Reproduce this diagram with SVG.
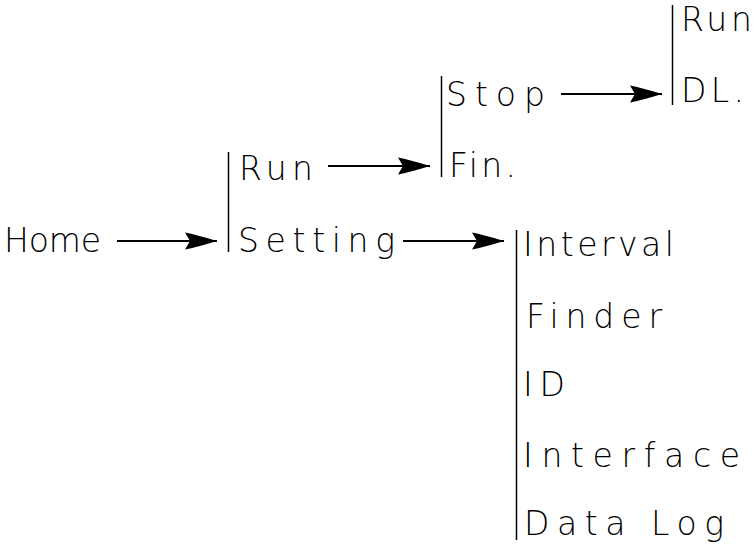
<svg xmlns="http://www.w3.org/2000/svg" width="755" height="550" viewBox="0 0 755 550">
<style>
text{font-family:"DejaVu Sans","Liberation Sans",sans-serif;font-weight:200;font-size:33px;fill:#000;}
.ln{stroke:#000;stroke-width:1.8;fill:none;}
.bar{stroke:#000;stroke-width:1.5;fill:none;}
</style>
<defs>
<marker id="ah" markerUnits="userSpaceOnUse" markerWidth="36" markerHeight="20" viewBox="0 -10 36 20" refX="32" refY="0" orient="auto">
<path d="M0,-8.5 Q11,-6.5 32,0 Q11,6.5 0,8.5 L5,0 z" fill="#000"/>
</marker>
</defs>
<rect width="755" height="550" fill="#fff"/>
<g id="connectors">
<line class="ln" x1="117" y1="241" x2="217" y2="241" marker-end="url(#ah)"/>
<line class="ln" x1="328" y1="166" x2="430" y2="166" marker-end="url(#ah)"/>
<line class="ln" x1="403" y1="241" x2="504" y2="241" marker-end="url(#ah)"/>
<line class="ln" x1="561" y1="94" x2="662" y2="94" marker-end="url(#ah)"/>
<line class="bar" x1="228.5" y1="152" x2="228.5" y2="252"/>
<line class="bar" x1="441.5" y1="76" x2="441.5" y2="177"/>
<line class="bar" x1="672.5" y1="5" x2="672.5" y2="105"/>
<line class="bar" x1="516.5" y1="230" x2="516.5" y2="540"/>
</g>
<g id="home"><text x="4" y="252" textLength="97" lengthAdjust="spacing">Home</text></g>
<g id="run"><text x="239" y="180" textLength="74" lengthAdjust="spacing">Run</text></g>
<g id="setting"><text x="238" y="252" textLength="157" lengthAdjust="spacing">Setting</text></g>
<g id="stop"><text x="446" y="106" textLength="99" lengthAdjust="spacing">Stop</text></g>
<g id="fin"><text x="449" y="177" textLength="67" lengthAdjust="spacing">Fin.</text></g>
<g id="run2"><text x="681" y="31" textLength="71" lengthAdjust="spacing">Run</text></g>
<g id="dl"><text x="681" y="102" textLength="63" lengthAdjust="spacing">DL.</text></g>
<g id="interval"><text x="523" y="256" textLength="151" lengthAdjust="spacing">Interval</text></g>
<g id="finder"><text x="526" y="328" textLength="136" lengthAdjust="spacing">Finder</text></g>
<g id="id"><text x="523" y="396" textLength="42" lengthAdjust="spacing">ID</text></g>
<g id="interface"><text x="523" y="467" textLength="217" lengthAdjust="spacing">Interface</text></g>
<g id="datalog"><text x="524" y="535" textLength="200" lengthAdjust="spacing">Data Log</text></g>
</svg>
